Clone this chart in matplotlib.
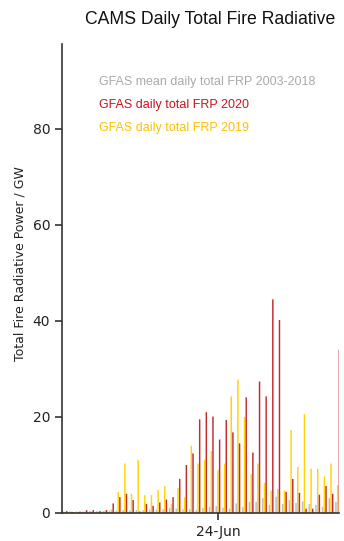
import matplotlib
matplotlib.use("Agg")
import matplotlib.pyplot as plt
import numpy as np

# Day index 0 = 1-Jun
days = list(range(42))
mean_2003_2018 = [0.3, 0.3, 0.3, 0.3, 0.4, 0.4, 0.4, 0.5, 0.5, 0.6, 0.5, 0.6, 0.6, 0.7,
                  0.7, 0.8, 1.0, 0.9, 0.8, 0.8, 0.6, 1.1, 1.25, 1.4, 1.1, 0.9, 2.0, 1.25,
                  2.3, 2.3, 3.1, 1.7, 3.4, 1.9, 2.7, 2.1, 2.4, 1.9, 1.7, 1.3, 3.1, 2.3]
frp_2020 = [0.4, 0.2, 0.3, 0.6, 0.6, 0.4, 0.6, 2.0, 3.3, 4.0, 2.7, 0.3, 1.9, 1.5,
            2.2, 2.8, 3.3, 7.1, 10.0, 12.4, 19.5, 21.0, 20.1, 15.3, 19.4, 16.8, 14.5, 24.1,
            12.6, 27.4, 24.3, 44.5, 40.2, 4.4, 7.1, 4.2, 0.9, 0.9, 3.8, 5.6, 4.0, 34.0]
frp_2019 = [0.2, 0.3, 0.2, 0.3, 0.3, 0.3, 0.5, 0.8, 4.4, 10.3, 4.0, 11.0, 3.7, 3.7,
            4.8, 5.6, 1.9, 5.2, 3.3, 14.0, 10.3, 11.1, 12.9, 8.9, 10.3, 24.3, 27.8, 20.0,
            8.1, 10.3, 6.3, 4.7, 5.0, 4.7, 17.3, 9.6, 20.6, 9.2, 9.2, 7.6, 10.3, 5.8]
xtick_pos = [23]
xtick_labels = ["24-Jun"]
yticks = [0, 20, 40, 60, 80]

legend_labels = ["GFAS mean daily total FRP 2003-2018",
                 "GFAS daily total FRP 2020",
                 "GFAS daily total FRP 2019"]

c_gray = "#BDBDBD"
c_red = "#C42A30"
c_yellow = "#FFD400"

W, H = 344, 541
fig = plt.figure(figsize=(W / 100, H / 100), dpi=100)
ax = fig.add_axes([62 / W, (H - 513) / H, 277 / W, 469 / H])

x = np.array(days)
bw = 0.22
for off, vals, col in [(-0.26, mean_2003_2018, c_gray),
                       (0.0, frp_2019, c_yellow),
                       (0.25, frp_2020, c_red)]:
    bars = ax.bar(x + off, vals, width=bw, color=col, linewidth=0)
    for b in bars:
        b.set_snap(False)

ax.set_xlim(-0.45, 41.2)
ax.set_ylim(0, 97.7)
ax.set_xticks(xtick_pos)
ax.set_xticklabels(xtick_labels, fontsize=10, color="#222222")
ax.set_yticks(yticks)
ax.set_yticklabels([str(v) for v in yticks], fontsize=10, color="#222222")
for s in ["top", "right"]:
    ax.spines[s].set_visible(False)
for s in ["left", "bottom"]:
    ax.spines[s].set_color("#333333")
    ax.spines[s].set_linewidth(1.2)
ax.tick_params(axis="both", color="#333333", width=1.2, length=5)

fig.text(20 / W, 1 - 264 / H, "Total Fire Radiative Power / GW", rotation=90,
         ha="center", va="center", fontsize=9, color="#222222", family="DejaVu Sans")

fig.text(85 / W, 1 - 20 / H, "CAMS Daily Total Fire Radiative", ha="left", va="center",
         fontsize=12.7, color="#111111", family="Liberation Sans")

leg_colors = ["#AAAAAA", "#C8141E", "#FFC000"]
leg_y = [82, 105, 128]
for lab, col, yy in zip(legend_labels, leg_colors, leg_y):
    fig.text(99 / W, 1 - yy / H, lab, ha="left", va="center", fontsize=9,
             color=col, family="Liberation Sans")

fig.savefig("out.png", dpi=100)
